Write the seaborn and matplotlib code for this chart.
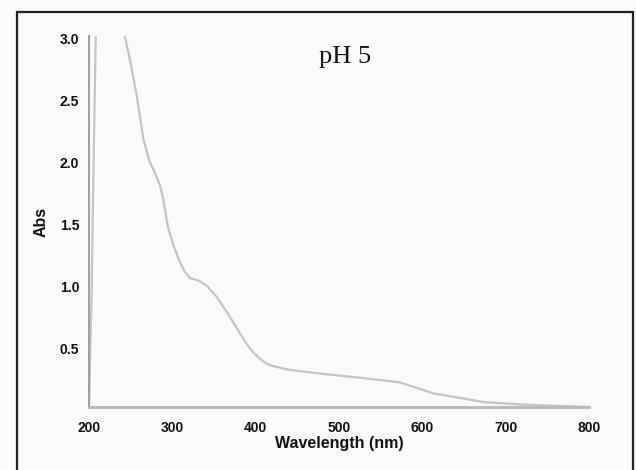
import matplotlib
matplotlib.use("Agg")
import matplotlib.pyplot as plt
import seaborn as sns
import pandas as pd

# UV-Vis spectrum at pH 5
wavelength = [200, 203, 205, 207, 209, 220, 235, 243, 250, 257, 265, 272, 279,
              285, 289, 295, 302, 309, 315, 321, 331, 341, 353, 365, 378, 389, 397,
              405, 413, 421, 440, 477, 520, 572, 600, 613, 640, 673, 720, 760, 800]
absorbance = [0.05, 0.9, 1.8, 2.6, 3.4, 3.6, 3.3, 3.02, 2.80, 2.55, 2.20, 2.02, 1.92,
              1.82, 1.71, 1.47, 1.32, 1.20, 1.12, 1.07, 1.05, 1.01, 0.92, 0.80, 0.66, 0.54, 0.47,
              0.42, 0.38, 0.36, 0.33, 0.30, 0.27, 0.23, 0.17, 0.14, 0.11, 0.07, 0.05, 0.04, 0.03]

df = pd.DataFrame({'Wavelength': wavelength, 'Abs': absorbance})

sns.set_style("white")
fig = plt.figure(figsize=(6.36, 4.70), dpi=100)
fig.patch.set_facecolor('#fafafa')
ax = fig.add_axes([0.140, 0.134, 0.786, 0.789])
ax.set_facecolor('#fafafa')

sns.lineplot(data=df, x='Wavelength', y='Abs', color='#c4c4c4', linewidth=1.6, ax=ax)

ax.set_xlim(200, 800)
ax.set_ylim(0.03, 3.02)
ax.set_xticks([200, 300, 400, 500, 600, 700, 800])
ax.set_yticks([0.5, 1.0, 1.5, 2.0, 2.5, 3.0])
ax.set_yticklabels(['0.5', '1.0', '1.5', '2.0', '2.5', '3.0'])

for s in ['top', 'right']:
    ax.spines[s].set_visible(False)
ax.spines['left'].set_color('#a0a0a0')
ax.spines['left'].set_linewidth(1.5)
ax.spines['bottom'].set_color('#b8b8b8')
ax.spines['bottom'].set_linewidth(2)
ax.tick_params(axis='both', direction='out', length=3, width=1, color='#b0b0b0',
               labelsize=10, labelcolor='#111111')
ax.tick_params(axis='x', pad=7)
ax.tick_params(axis='y', pad=4)
for lab in ax.get_xticklabels() + ax.get_yticklabels():
    lab.set_fontweight('bold')
    lab.set_family('Liberation Sans')

ax.set_xlabel('Wavelength (nm)', fontsize=11.5, fontweight='bold', family='Liberation Sans',
              labelpad=1, color='#111111')
ax.set_ylabel('Abs', fontsize=11.5, fontweight='bold', family='Liberation Sans',
              labelpad=8, color='#111111')

ax.text(0.512, 0.943, 'pH 5', transform=ax.transAxes, ha='center', va='center',
        fontsize=19, family='Liberation Serif', color='#111111')

# outer frame
frame = plt.Rectangle((17 / 636, -0.02), 616 / 636, 1 - 12 / 470 + 0.02,
                      transform=fig.transFigure, fill=False, edgecolor='#222222', lw=1.6)
fig.add_artist(frame)

fig.savefig('out.png', dpi=100, facecolor=fig.get_facecolor())
